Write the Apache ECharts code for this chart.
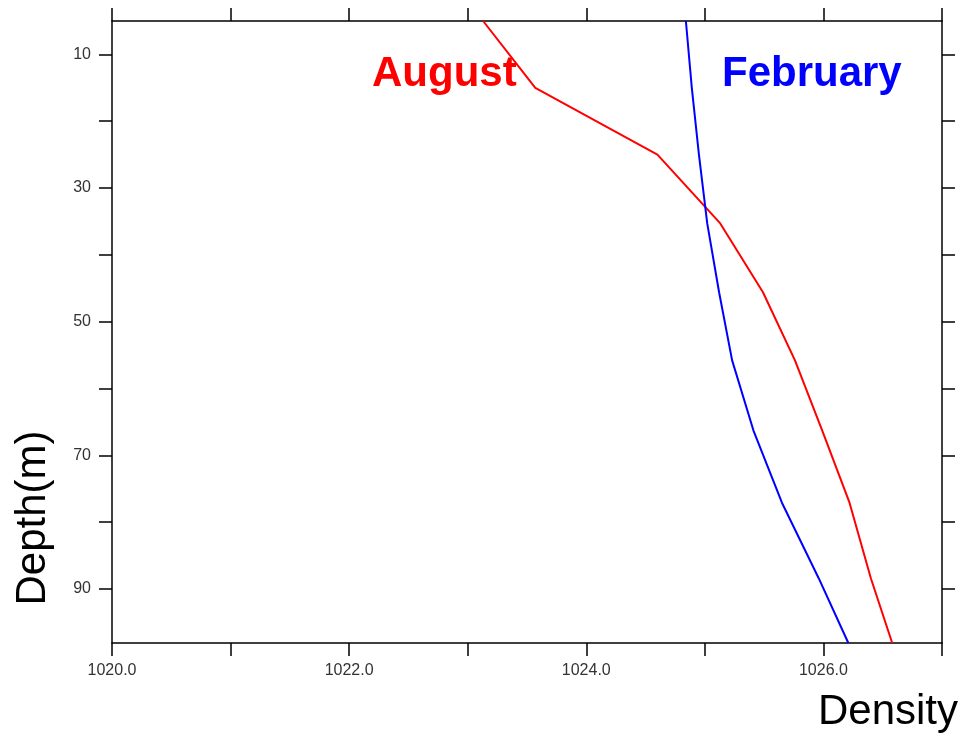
<!DOCTYPE html>
<html>
<head>
<meta charset="utf-8">
<script src="https://cdn.jsdelivr.net/npm/echarts@6/dist/echarts.min.js"></script>
<style>
html,body{margin:0;padding:0;background:#fff;}
#chart{width:965px;height:737px;}
</style>
</head>
<body>
<div id="chart"></div>
<script>
// Depth levels (m)
const depths = [5, 15, 25, 35.3, 45.6, 55.8, 66.3, 77.1, 88.4, 98.1];
// Density profiles
const augustDensity   = [1023.13, 1023.57, 1024.60, 1025.13, 1025.49, 1025.76, 1025.99, 1026.22, 1026.40, 1026.58];
const februaryDensity = [1024.84, 1024.89, 1024.95, 1025.02, 1025.12, 1025.23, 1025.41, 1025.65, 1025.96, 1026.21];
// Axis ticks
const xMin = 1020, xMax = 1027;
const xTickValues = [1020, 1021, 1022, 1023, 1024, 1025, 1026, 1027];
const xLabelValues = [1020, 1022, 1024, 1026];
const yTickValues = [10, 20, 30, 40, 50, 60, 70, 80, 90];
const yLabelValues = [10, 30, 50, 70, 90];
const seriesNames = ['August', 'February'];

const pair = (xs) => xs.map((x, i) => [x, depths[i]]);
const yMin = Math.min(...depths), yMax = Math.max(...depths);

const axisLineStyle = {color: '#000', width: 1.5};
const tickStyle = {length: 13, inside: false, lineStyle: {color: '#000', width: 1.5}};
const labelFont = {fontFamily: 'Liberation Sans', fontSize: 16, color: '#333'};

function xAx(pos, showLabel) {
  return {
    type: 'value', position: pos, min: xMin, max: xMax,
    axisLine: {show: true, onZero: false, lineStyle: axisLineStyle},
    axisTick: Object.assign({show: true, customValues: xTickValues}, tickStyle),
    axisLabel: Object.assign({show: showLabel, margin: 20, customValues: xLabelValues,
      formatter: v => Number(v).toFixed(1)}, labelFont),
    splitLine: {show: false}
  };
}
function yAx(pos, showLabel) {
  return {
    type: 'value', position: pos, inverse: true, min: yMin, max: yMax,
    axisLine: {show: true, onZero: false, lineStyle: axisLineStyle},
    axisTick: Object.assign({show: true, customValues: yTickValues}, tickStyle),
    axisLabel: Object.assign({show: showLabel, margin: 21, customValues: yLabelValues}, labelFont),
    splitLine: {show: false}
  };
}

const chart = echarts.init(document.getElementById('chart'), null, {renderer: 'canvas'});
chart.setOption({
  animation: false,
  backgroundColor: '#fff',
  grid: {left: 112, top: 21, width: 830, height: 622, containLabel: false},
  xAxis: [xAx('bottom', true), xAx('top', false)],
  yAxis: [yAx('left', true), yAx('right', false)],
  series: [
    {name: seriesNames[0], type: 'line', xAxisIndex: 0, yAxisIndex: 0, data: pair(augustDensity),
     showSymbol: false, lineStyle: {color: '#ff0000', width: 2}, itemStyle: {color: '#ff0000'}},
    {name: seriesNames[1], type: 'line', xAxisIndex: 0, yAxisIndex: 0, data: pair(februaryDensity),
     showSymbol: false, lineStyle: {color: '#0000ff', width: 2}, itemStyle: {color: '#0000ff'}}
  ],
  graphic: [
    {type: 'text', x: 372, y: 74, style: {text: seriesNames[0], fill: '#ff0000',
      font: 'bold 42px "Liberation Sans"', align: 'left', verticalAlign: 'middle'}},
    {type: 'text', x: 722, y: 74, style: {text: seriesNames[1], fill: '#0000ff',
      font: 'bold 42px "Liberation Sans"', align: 'left', verticalAlign: 'middle'}},
    {type: 'text', x: 958, y: 712, style: {text: 'Density', fill: '#000',
      font: '42px "Liberation Sans"', align: 'right', verticalAlign: 'middle'}},
    {type: 'text', x: 33, y: 518, rotation: Math.PI / 2, style: {text: 'Depth(m)', fill: '#000',
      font: '42px "Liberation Sans"', align: 'center', verticalAlign: 'middle'}}
  ]
});
</script>
</body>
</html>
